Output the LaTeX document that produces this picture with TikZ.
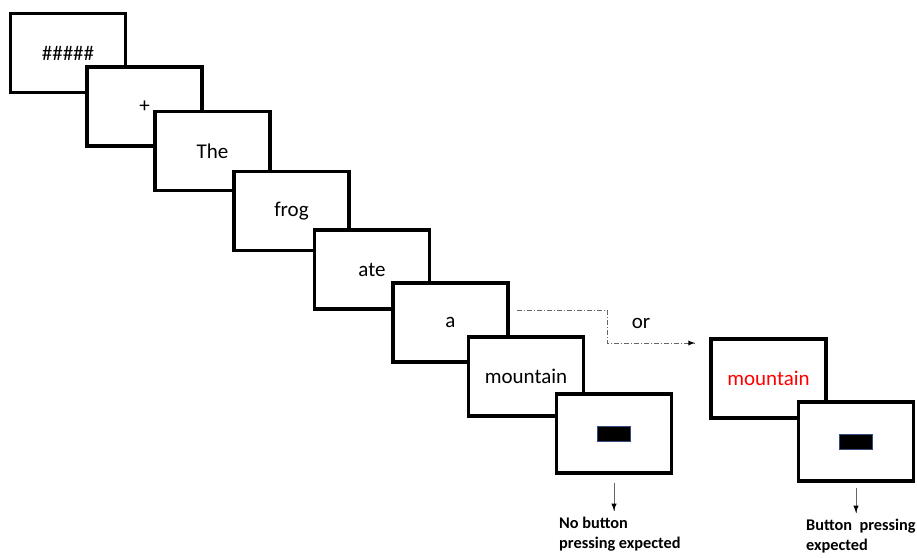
\documentclass[tikz,border=0pt]{standalone}
\usepackage{fontspec}
\setmainfont{Carlito}
\usetikzlibrary{arrows,decorations.markings,positioning}
\tikzset{
    scrn/.style={draw,fill=white,line width=3.4pt,minimum width=115pt,minimum height=79pt,inner sep=0pt,
        font=\fontsize{21}{25}\selectfont,text=black},
    scrnred/.style={scrn,text=red},
    mask/.style={draw={rgb:red,60;green,90;blue,150},fill=black,line width=.8pt,minimum width=33pt,minimum height=15pt,inner sep=0pt},
    orline/.style={draw=black!60,line width=.8pt,dash pattern=on 5pt off 2pt on 1pt off 2pt},
    downline/.style={draw=black!60,line width=.9pt},
    arrowfwd/.style={decoration={markings,mark=at position 1 with {\arrow[scale=1.3,>=latex,black]{>}}},postaction={decorate}},
    lbl/.style={align=left,anchor=north west,inner sep=0pt,font=\fontsize{16.3}{20}\selectfont\bfseries}
}
\begin{document}
\begin{tikzpicture}[x=1pt,y=-1pt]
        \useasboundingbox (0,0) rectangle (917,557);
        \node[scrn] (hash) at (68,53) {\#\#\#\#\#};
        \node[scrn] (fix) at (144.5,106.5) {+};
        \node[scrn] (the) at (212.5,151) {The};
        \node[scrn] (frog) at (291.5,211) {frog};
        \node[scrn] (ate) at (372,269.5) {ate};
        \node[scrn] (art) at (450.5,322.5) {a};
        \node[scrn] (mtn) at (526,376.5) {mountain};
        \node[scrn] (blank) at (614,433.5) {};
        \node[mask] (blankmask) at (blank) {};

        \node[scrnred] (mtnred) at (768.5,378.5) {mountain};
        \node[scrn] (blankred) at (856,441.5) {};
        \node[mask] (blankredmask) at (blankred) {};

        \coordinate (orfrom) at (517,310);
        \coordinate (orto) at (695,343);
        \draw[orline,arrowfwd] (orfrom) -- ++(90,0) |- (orto);
        \node[font=\fontsize{21}{25}\selectfont] (or) at (641,323) {or};

        \draw[downline,arrowfwd] ([yshift=-8pt]blank.south) -- ++(0,28);
        \draw[downline,arrowfwd] ([yshift=-5pt]blankred.south) -- ++(0,25);
        \node[lbl] (nopress) at (559,517) {No button\\pressing expected};
        \node[lbl] (press) at (806,519) {Button~ pressing\\expected};
    \end{tikzpicture}
\end{document}
